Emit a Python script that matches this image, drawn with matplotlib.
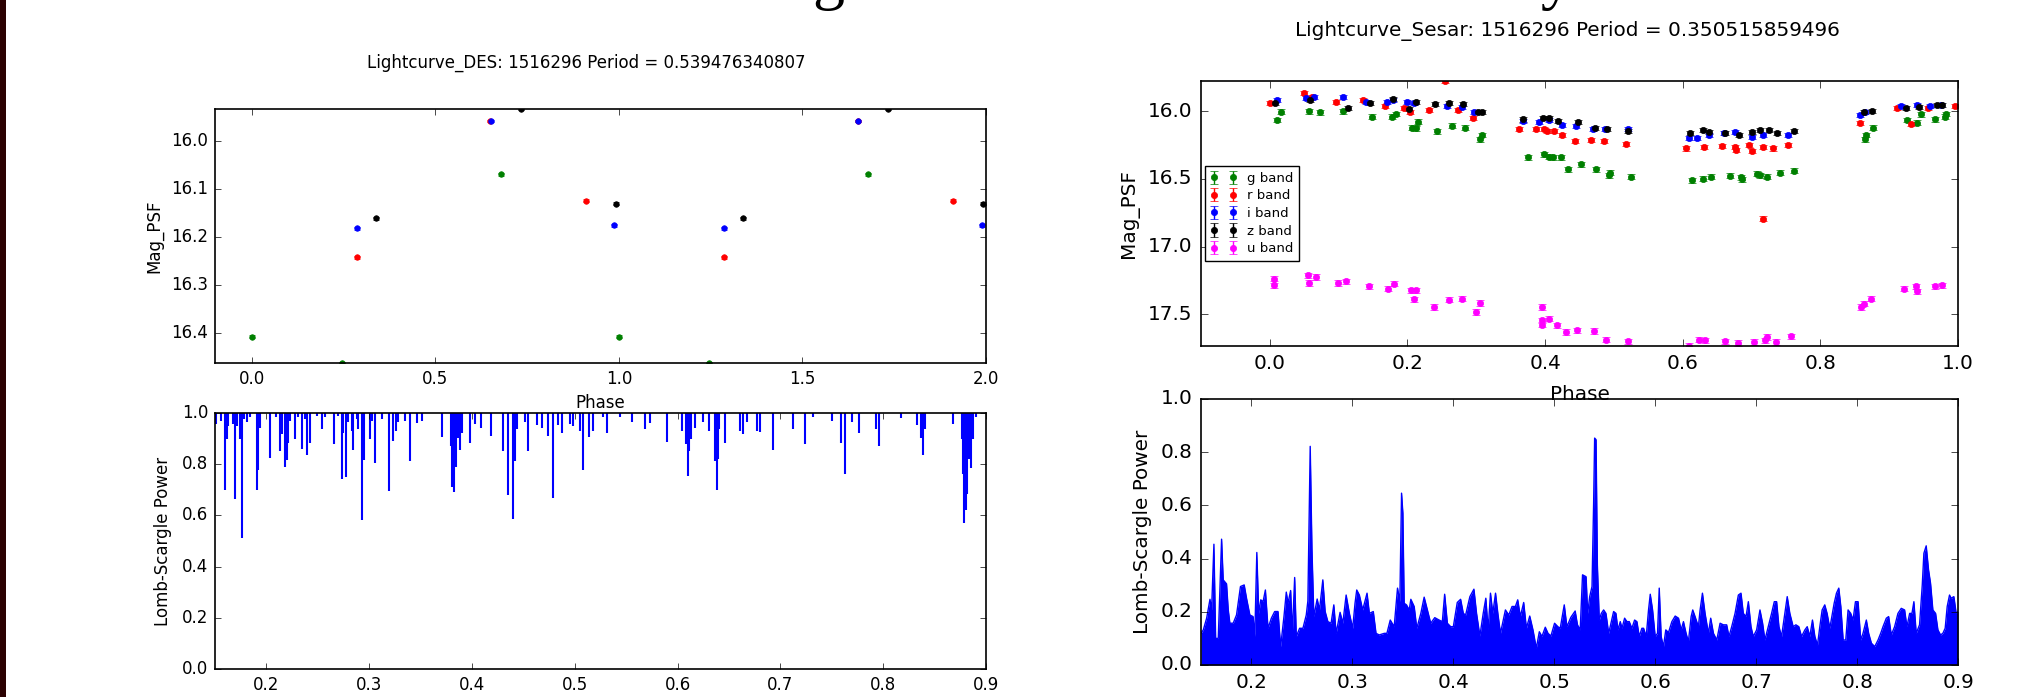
import matplotlib
matplotlib.use("Agg")
import matplotlib.pyplot as plt
import numpy as np
from matplotlib.patches import Rectangle

plt.style.use("classic")
plt.rcParams["font.family"] = ["DejaVu Sans"]

# ---- DES light curve: phase in [0, 1), drawn twice (phase and phase + 1)
des_g_phase = [0.0, 0.246, 0.679]
des_g_mag = [16.408, 16.463, 16.069]
des_r_phase = [0.2875, 0.650, 0.910]
des_r_mag = [16.242, 15.958, 16.124]
des_i_phase = [0.2875, 0.652, 0.988]
des_i_mag = [16.182, 15.958, 16.176]
des_z_phase = [0.338, 0.733, 0.991]
des_z_mag = [16.161, 15.933, 16.131]
des_err = 0.003

# ---- Sesar light curve
ses_g_phase = [0.011, 0.016, 0.057, 0.073, 0.106, 0.149, 0.178, 0.183, 0.206, 0.213,
               0.216, 0.243, 0.265, 0.283, 0.306, 0.309, 0.375, 0.399, 0.405, 0.411,
               0.423, 0.434, 0.452, 0.474, 0.493, 0.494, 0.525, 0.613, 0.629, 0.641,
               0.668, 0.684, 0.686, 0.708, 0.713, 0.723, 0.741, 0.761, 0.865, 0.867,
               0.877, 0.926, 0.940, 0.946, 0.967, 0.981, 0.983]
ses_g_mag = [16.066, 16.005, 16.000, 16.010, 16.000, 16.042, 16.042, 16.022, 16.123, 16.128,
             16.079, 16.148, 16.108, 16.123, 16.207, 16.177, 16.342, 16.320, 16.337, 16.342,
             16.342, 16.431, 16.394, 16.431, 16.473, 16.456, 16.485, 16.510, 16.500, 16.485,
             16.478, 16.490, 16.502, 16.461, 16.473, 16.485, 16.456, 16.441, 16.207, 16.177,
             16.123, 16.066, 16.086, 16.025, 16.062, 16.042, 16.022]
ses_r_phase = [0.000, 0.050, 0.061, 0.096, 0.136, 0.167, 0.195, 0.204, 0.232, 0.255,
               0.273, 0.295, 0.362, 0.387, 0.399, 0.403, 0.413, 0.425, 0.444, 0.466,
               0.485, 0.517, 0.605, 0.631, 0.657, 0.676, 0.678, 0.696, 0.700, 0.717,
               0.717, 0.731, 0.753, 0.857, 0.912, 0.932, 0.957, 0.995]
ses_r_mag = [15.943, 15.869, 15.894, 15.931, 15.919, 15.963, 15.980, 16.005, 15.993, 15.778,
             15.993, 16.054, 16.135, 16.135, 16.135, 16.148, 16.148, 16.177, 16.222, 16.214,
             16.222, 16.246, 16.276, 16.268, 16.259, 16.264, 16.288, 16.251, 16.293, 16.268,
             16.793, 16.276, 16.251, 16.086, 15.980, 16.096, 15.980, 15.963]
ses_i_phase = [0.011, 0.053, 0.064, 0.106, 0.140, 0.171, 0.179, 0.200, 0.210, 0.257,
               0.279, 0.297, 0.368, 0.391, 0.405, 0.425, 0.445, 0.470, 0.487, 0.521,
               0.609, 0.621, 0.638, 0.660, 0.676, 0.700, 0.717, 0.753, 0.857, 0.865,
               0.917, 0.940, 0.959, 0.975]
ses_i_mag = [15.919, 15.906, 15.894, 15.899, 15.931, 15.931, 15.919, 15.936, 15.943, 15.963,
             15.968, 16.005, 16.074, 16.079, 16.067, 16.103, 16.111, 16.133, 16.135, 16.135,
             16.197, 16.197, 16.177, 16.165, 16.153, 16.190, 16.177, 16.177, 16.030, 16.005,
             15.963, 15.956, 15.963, 15.956]
ses_z_phase = [0.008, 0.059, 0.114, 0.145, 0.179, 0.202, 0.212, 0.240, 0.261, 0.281,
               0.303, 0.308, 0.368, 0.397, 0.405, 0.419, 0.448, 0.472, 0.490, 0.521,
               0.611, 0.629, 0.638, 0.662, 0.682, 0.700, 0.713, 0.725, 0.737, 0.761,
               0.863, 0.875, 0.924, 0.943, 0.969, 0.977]
ses_z_mag = [15.943, 15.919, 15.975, 15.938, 15.914, 15.988, 15.931, 15.951, 15.943, 15.951,
             16.005, 16.010, 16.062, 16.049, 16.054, 16.074, 16.079, 16.128, 16.133, 16.145,
             16.165, 16.140, 16.153, 16.165, 16.177, 16.153, 16.140, 16.140, 16.160, 16.145,
             16.005, 15.998, 15.980, 15.968, 15.956, 15.956]
ses_u_phase = [0.0065, 0.0065, 0.055, 0.057, 0.067, 0.099, 0.110, 0.144, 0.172, 0.181,
               0.205, 0.212, 0.209, 0.238, 0.261, 0.279, 0.300, 0.305, 0.395, 0.395,
               0.395, 0.405, 0.417, 0.430, 0.446, 0.471, 0.489, 0.521, 0.609, 0.623,
               0.633, 0.662, 0.680, 0.703, 0.719, 0.723, 0.735, 0.757, 0.859, 0.863,
               0.873, 0.922, 0.939, 0.941, 0.967, 0.977]
ses_u_mag = [17.236, 17.286, 17.212, 17.268, 17.224, 17.268, 17.256, 17.293, 17.310, 17.273,
             17.323, 17.323, 17.389, 17.446, 17.392, 17.384, 17.483, 17.416, 17.446, 17.544,
             17.576, 17.532, 17.581, 17.630, 17.618, 17.623, 17.687, 17.700, 17.734, 17.687,
             17.692, 17.700, 17.712, 17.704, 17.692, 17.667, 17.704, 17.662, 17.446, 17.421,
             17.384, 17.310, 17.293, 17.330, 17.293, 17.286]
ses_err = {"g": 0.018, "r": 0.015, "i": 0.015, "z": 0.015, "u": 0.02}

# ---- DES Lomb-Scargle: power stays at 1.0 except for narrow dips
des_dip_period = [0.1506, 0.1558, 0.1597, 0.1614, 0.1623, 0.1672, 0.1695, 0.1714, 0.1743, 0.1759,
                  0.1785, 0.1808, 0.1840, 0.1912, 0.1922, 0.1941, 0.2035, 0.2090, 0.2132, 0.2155,
                  0.2181, 0.2197, 0.2213, 0.2230, 0.2278, 0.2311, 0.2350, 0.2375, 0.2398, 0.2424,
                  0.2489, 0.2538, 0.2570, 0.2658, 0.2700, 0.2732, 0.2748, 0.2771, 0.2797, 0.2830,
                  0.2846, 0.2878, 0.2894, 0.2933, 0.2953, 0.3008, 0.3030, 0.3056, 0.3121, 0.3193,
                  0.3235, 0.3258, 0.3277, 0.3348, 0.3394, 0.3462, 0.3510, 0.3705, 0.3793, 0.3802,
                  0.3828, 0.3841, 0.3861, 0.3883, 0.3900, 0.3981, 0.4029, 0.4088, 0.4182, 0.4305,
                  0.4354, 0.4396, 0.4418, 0.4435, 0.4516, 0.4548, 0.4630, 0.4684, 0.4743, 0.4791,
                  0.4840, 0.4872, 0.4953, 0.4986, 0.5051, 0.5077, 0.5139, 0.5180, 0.5271, 0.5310,
                  0.5440, 0.5553, 0.5683, 0.5732, 0.5894, 0.6040, 0.6085, 0.6098, 0.6112, 0.6127,
                  0.6169, 0.6250, 0.6309, 0.6364, 0.6380, 0.6392, 0.6403, 0.6461, 0.6607, 0.6633,
                  0.6672, 0.6769, 0.6802, 0.6925, 0.7126, 0.7239, 0.7314, 0.7499, 0.7587, 0.7629,
                  0.7694, 0.7768, 0.7930, 0.7963, 0.8173, 0.8326, 0.8368, 0.8384, 0.8407, 0.8683,
                  0.8765, 0.8775, 0.8790, 0.8802, 0.8813, 0.8835, 0.8852, 0.8871, 0.8900]
des_dip_power = [0.956, 0.970, 0.701, 0.897, 0.950, 0.956, 0.665, 0.950, 0.899, 0.510,
                 0.976, 0.963, 0.983, 0.701, 0.777, 0.943, 0.824, 0.983, 0.850, 0.917,
                 0.791, 0.817, 0.883, 0.970, 0.897, 0.983, 0.860, 0.976, 0.837, 0.883,
                 0.989, 0.936, 0.983, 0.877, 0.989, 0.744, 0.923, 0.751, 0.963, 0.930,
                 0.857, 0.976, 0.936, 0.583, 0.817, 0.897, 0.970, 0.804, 0.976, 0.695,
                 0.890, 0.930, 0.963, 0.970, 0.811, 0.960, 0.970, 0.906, 0.870, 0.711,
                 0.690, 0.791, 0.903, 0.857, 0.923, 0.883, 0.956, 0.943, 0.910, 0.850,
                 0.678, 0.585, 0.811, 0.936, 0.963, 0.850, 0.952, 0.943, 0.910, 0.669,
                 0.952, 0.923, 0.956, 0.950, 0.930, 0.777, 0.907, 0.930, 0.983, 0.923,
                 0.983, 0.966, 0.939, 0.960, 0.886, 0.930, 0.880, 0.754, 0.850, 0.897,
                 0.943, 0.963, 0.930, 0.811, 0.701, 0.820, 0.936, 0.883, 0.930, 0.917,
                 0.963, 0.930, 0.926, 0.857, 0.936, 0.877, 0.983, 0.970, 0.881, 0.762,
                 0.963, 0.923, 0.936, 0.870, 0.979, 0.952, 0.903, 0.837, 0.936, 0.956,
                 0.900, 0.760, 0.572, 0.620, 0.685, 0.820, 0.784, 0.897, 0.985]

# ---- Sesar Lomb-Scargle: upper envelope of the densely sampled power
ses_ls_period = [0.1500, 0.1523, 0.1556, 0.1589, 0.1605, 0.1628, 0.1645, 0.1671, 0.1704, 0.1720,
                 0.1753, 0.1770, 0.1786, 0.1819, 0.1852, 0.1891, 0.1928, 0.1951, 0.1984, 0.2016,
                 0.2033, 0.2053, 0.2072, 0.2092, 0.2115, 0.2138, 0.2164, 0.2197, 0.2230, 0.2263,
                 0.2289, 0.2322, 0.2345, 0.2362, 0.2388, 0.2405, 0.2428, 0.2444, 0.2477, 0.2510,
                 0.2543, 0.2559, 0.2582, 0.2599, 0.2618, 0.2651, 0.2674, 0.2707, 0.2730, 0.2757,
                 0.2789, 0.2816, 0.2839, 0.2878, 0.2905, 0.2938, 0.2970, 0.3003, 0.3026, 0.3043,
                 0.3069, 0.3102, 0.3145, 0.3168, 0.3207, 0.3234, 0.3266, 0.3316, 0.3342, 0.3375,
                 0.3414, 0.3447, 0.3470, 0.3487, 0.3500, 0.3513, 0.3536, 0.3563, 0.3579, 0.3612,
                 0.3638, 0.3678, 0.3711, 0.3743, 0.3776, 0.3816, 0.3859, 0.3891, 0.3914, 0.3941,
                 0.3974, 0.4000, 0.4039, 0.4072, 0.4099, 0.4122, 0.4164, 0.4204, 0.4230, 0.4263,
                 0.4296, 0.4322, 0.4345, 0.4368, 0.4391, 0.4418, 0.4441, 0.4467, 0.4516, 0.4549,
                 0.4582, 0.4615, 0.4638, 0.4664, 0.4697, 0.4724, 0.4757, 0.4789, 0.4822, 0.4852,
                 0.4878, 0.4911, 0.4938, 0.4967, 0.5003, 0.5036, 0.5059, 0.5099, 0.5125, 0.5164,
                 0.5207, 0.5230, 0.5257, 0.5280, 0.5315, 0.5331, 0.5351, 0.5374, 0.5390, 0.5400,
                 0.5414, 0.5427, 0.5446, 0.5466, 0.5489, 0.5512, 0.5539, 0.5565, 0.5588, 0.5611,
                 0.5631, 0.5654, 0.5671, 0.5697, 0.5720, 0.5743, 0.5769, 0.5796, 0.5819, 0.5842,
                 0.5868, 0.5885, 0.5911, 0.5934, 0.5951, 0.5974, 0.6000, 0.6023, 0.6040, 0.6059,
                 0.6082, 0.6105, 0.6132, 0.6165, 0.6198, 0.6231, 0.6257, 0.6280, 0.6306, 0.6329,
                 0.6356, 0.6372, 0.6395, 0.6428, 0.6445, 0.6468, 0.6494, 0.6527, 0.6550, 0.6577,
                 0.6610, 0.6643, 0.6675, 0.6708, 0.6731, 0.6758, 0.6791, 0.6824, 0.6850, 0.6873,
                 0.6900, 0.6923, 0.6949, 0.6972, 0.7005, 0.7038, 0.7064, 0.7087, 0.7120, 0.7153,
                 0.7180, 0.7203, 0.7226, 0.7252, 0.7285, 0.7308, 0.7334, 0.7367, 0.7394, 0.7423,
                 0.7450, 0.7483, 0.7506, 0.7532, 0.7558, 0.7582, 0.7608, 0.7631, 0.7654, 0.7680,
                 0.7703, 0.7730, 0.7773, 0.7796, 0.7819, 0.7839, 0.7862, 0.7888, 0.7911, 0.7937,
                 0.7960, 0.7984, 0.8010, 0.8036, 0.8059, 0.8092, 0.8115, 0.8142, 0.8175, 0.8208,
                 0.8234, 0.8257, 0.8290, 0.8313, 0.8339, 0.8372, 0.8405, 0.8438, 0.8471, 0.8494,
                 0.8521, 0.8544, 0.8563, 0.8586, 0.8619, 0.8646, 0.8662, 0.8685, 0.8708, 0.8728,
                 0.8751, 0.8778, 0.8801, 0.8827, 0.8850, 0.8873, 0.8893, 0.8916, 0.8932, 0.8959,
                 0.8982, 0.9000]
ses_ls_power = [0.119, 0.132, 0.176, 0.247, 0.207, 0.454, 0.100, 0.100, 0.473, 0.320,
                0.305, 0.207, 0.157, 0.157, 0.188, 0.295, 0.301, 0.251, 0.188, 0.182,
                0.107, 0.423, 0.194, 0.245, 0.238, 0.282, 0.138, 0.176, 0.201, 0.201,
                0.069, 0.182, 0.274, 0.232, 0.280, 0.119, 0.329, 0.107, 0.138, 0.138,
                0.188, 0.241, 0.822, 0.439, 0.182, 0.248, 0.207, 0.320, 0.201, 0.163,
                0.157, 0.226, 0.119, 0.198, 0.157, 0.263, 0.194, 0.138, 0.232, 0.282,
                0.263, 0.207, 0.270, 0.194, 0.201, 0.119, 0.113, 0.119, 0.119, 0.169,
                0.144, 0.289, 0.238, 0.646, 0.571, 0.232, 0.226, 0.207, 0.247, 0.220,
                0.138, 0.194, 0.255, 0.207, 0.157, 0.178, 0.169, 0.163, 0.266, 0.157,
                0.144, 0.144, 0.235, 0.247, 0.194, 0.188, 0.257, 0.285, 0.194, 0.109,
                0.194, 0.251, 0.132, 0.270, 0.194, 0.270, 0.194, 0.119, 0.207, 0.188,
                0.220, 0.220, 0.245, 0.182, 0.235, 0.138, 0.184, 0.132, 0.063, 0.125,
                0.107, 0.142, 0.119, 0.109, 0.157, 0.144, 0.138, 0.226, 0.144, 0.179,
                0.203, 0.151, 0.132, 0.339, 0.332, 0.194, 0.257, 0.295, 0.609, 0.853,
                0.847, 0.376, 0.169, 0.194, 0.207, 0.194, 0.119, 0.163, 0.201, 0.194,
                0.132, 0.163, 0.138, 0.176, 0.163, 0.163, 0.138, 0.169, 0.163, 0.107,
                0.138, 0.138, 0.107, 0.207, 0.266, 0.207, 0.107, 0.119, 0.289, 0.107,
                0.069, 0.132, 0.122, 0.163, 0.184, 0.176, 0.132, 0.163, 0.119, 0.088,
                0.182, 0.207, 0.182, 0.144, 0.207, 0.270, 0.194, 0.119, 0.176, 0.119,
                0.094, 0.157, 0.151, 0.151, 0.107, 0.144, 0.194, 0.263, 0.270, 0.194,
                0.182, 0.238, 0.144, 0.107, 0.132, 0.207, 0.157, 0.094, 0.144, 0.194,
                0.238, 0.238, 0.144, 0.107, 0.194, 0.257, 0.194, 0.144, 0.151, 0.144,
                0.107, 0.132, 0.144, 0.107, 0.169, 0.107, 0.075, 0.144, 0.207, 0.226,
                0.194, 0.138, 0.232, 0.270, 0.289, 0.220, 0.094, 0.094, 0.207, 0.194,
                0.169, 0.238, 0.238, 0.094, 0.119, 0.169, 0.119, 0.082, 0.069, 0.094,
                0.119, 0.144, 0.176, 0.182, 0.113, 0.144, 0.194, 0.213, 0.207, 0.144,
                0.194, 0.194, 0.238, 0.119, 0.151, 0.301, 0.420, 0.448, 0.358, 0.307,
                0.207, 0.194, 0.132, 0.113, 0.119, 0.138, 0.220, 0.263, 0.251, 0.257,
                0.194, 0.200]

# ---- titles, labels, ticks
des_title = "Lightcurve_DES: 1516296 Period = 0.539476340807"
ses_title = "Lightcurve_Sesar: 1516296 Period = 0.350515859496"
des_phase_ticks = [0.0, 0.5, 1.0, 1.5, 2.0]
des_mag_ticks = [16.0, 16.1, 16.2, 16.3, 16.4]
ses_phase_ticks = [0.0, 0.2, 0.4, 0.6, 0.8, 1.0]
ses_mag_ticks = [16.0, 16.5, 17.0, 17.5]
ls_period_ticks = [0.2, 0.3, 0.4, 0.5, 0.6, 0.7, 0.8, 0.9]
ls_power_ticks = [0.0, 0.2, 0.4, 0.6, 0.8, 1.0]

W, H = 2044, 697


def px_axes(fig, left, top, right, bottom):
    return fig.add_axes([left / W, 1 - bottom / H, (right - left) / W, (bottom - top) / H])


def style_axes(ax, fs):
    ax.tick_params(labelsize=fs, length=4 * fs / 12, pad=5 * fs / 12)
    for sp in ax.spines.values():
        sp.set_linewidth(1.2)


fig = plt.figure(figsize=(W / 100, H / 100), dpi=100, facecolor="white")

# slide edge and the bottom of a heading that is cut off above the plots
fig.patches.append(Rectangle((0, 0), 6 / W, 1, transform=fig.transFigure,
                             facecolor="#2b0102", edgecolor="none"))
fig.text(828 / W, 1.004, "g", fontsize=46, family="Liberation Serif",
         ha="center", va="baseline")
fig.text(1556 / W, 1.004, "y", fontsize=46, family="Liberation Serif",
         ha="center", va="baseline")

# ----- DES light curve
fs1 = 12
ax1 = px_axes(fig, 215, 109, 986, 363)
ax1.set_zorder(3)
des_bands = [("g", des_g_phase, des_g_mag), ("r", des_r_phase, des_r_mag),
             ("b", des_i_phase, des_i_mag), ("k", des_z_phase, des_z_mag)]
for color, phase, mag in des_bands:
    ph = np.concatenate([phase, np.array(phase) + 1.0])
    mg = np.concatenate([mag, mag])
    ax1.errorbar(ph, mg, yerr=des_err, fmt="o", color=color, mec=color,
                 ms=4, capsize=2.5, elinewidth=1)
all_des = des_g_mag + des_r_mag + des_i_mag + des_z_mag
ax1.set_xlim(-0.1, 2.0)
ax1.set_ylim(max(all_des), min(all_des))
ax1.set_xticks(des_phase_ticks)
ax1.set_xticklabels([f"{t:.1f}" for t in des_phase_ticks])
ax1.set_yticks(des_mag_ticks)
ax1.set_yticklabels([f"{t:.1f}" for t in des_mag_ticks])
ax1.set_xlabel("Phase", fontsize=fs1)
ax1.set_ylabel("Mag_PSF", fontsize=fs1)
ax1.xaxis.set_label_coords(0.5, -0.122)
ax1.yaxis.set_label_coords(-0.067, 0.5)
style_axes(ax1, fs1)
fig.text(586 / W, 1 - 63 / H, des_title, fontsize=fs1, ha="center", va="center")

# ----- DES periodogram
ax2 = px_axes(fig, 215, 413, 986, 669)
ax2.vlines(des_dip_period, des_dip_power, 1.0, colors="b", lw=1.5)
ax2.set_xlim(0.15, 0.9)
ax2.set_ylim(0.0, 1.0)
ax2.set_xticks(ls_period_ticks)
ax2.set_xticklabels([f"{t:.1f}" for t in ls_period_ticks])
ax2.set_yticks(ls_power_ticks)
ax2.set_yticklabels([f"{t:.1f}" for t in ls_power_ticks])
ax2.set_ylabel("Lomb-Scargle Power", fontsize=fs1)
ax2.yaxis.set_label_coords(-0.056, 0.5)
style_axes(ax2, fs1)

# ----- Sesar light curve
fs2 = 14.45
ax3 = px_axes(fig, 1201, 81, 1958, 346)
ax3.set_zorder(3)
ses_bands = [("g band", "g", ses_g_phase, ses_g_mag, ses_err["g"]),
             ("r band", "r", ses_r_phase, ses_r_mag, ses_err["r"]),
             ("i band", "b", ses_i_phase, ses_i_mag, ses_err["i"]),
             ("z band", "k", ses_z_phase, ses_z_mag, ses_err["z"]),
             ("u band", "magenta", ses_u_phase, ses_u_mag, ses_err["u"])]
all_ses = []
for label, color, phase, mag, err in ses_bands:
    ax3.errorbar(phase, mag, yerr=err, fmt="o", color=color, mec=color,
                 ms=4.5, capsize=3, elinewidth=1, label=label)
    all_ses += mag
ax3.set_xlim(-0.1, 1.0)
ax3.set_ylim(max(all_ses), min(all_ses))
ax3.set_xticks(ses_phase_ticks)
ax3.set_xticklabels([f"{t:.1f}" for t in ses_phase_ticks])
ax3.set_yticks(ses_mag_ticks)
ax3.set_yticklabels([f"{t:.1f}" for t in ses_mag_ticks])
ax3.set_xlabel("Phase", fontsize=fs2)
ax3.set_ylabel("Mag_PSF", fontsize=fs2)
ax3.xaxis.set_label_coords(0.5, -0.147)
ax3.yaxis.set_label_coords(-0.082, 0.5)
ax3.legend(loc="center left", numpoints=2, fontsize=9.5, fancybox=False,
           handlelength=2, borderaxespad=0.3, labelspacing=0.35)
style_axes(ax3, fs2)
fig.text(1567 / W, 1 - 31 / H, ses_title, fontsize=fs2, ha="center", va="center")

# ----- Sesar periodogram
ax4 = px_axes(fig, 1201, 399, 1958, 665)
ax4.fill_between(ses_ls_period, 0.0, ses_ls_power, color="b", lw=0)
ax4.plot(ses_ls_period, ses_ls_power, color="b", lw=1.0)
ax4.set_xlim(0.15, 0.9)
ax4.set_ylim(0.0, 1.0)
ax4.set_xticks(ls_period_ticks)
ax4.set_xticklabels([f"{t:.1f}" for t in ls_period_ticks])
ax4.set_yticks(ls_power_ticks)
ax4.set_yticklabels([f"{t:.1f}" for t in ls_power_ticks])
ax4.set_ylabel("Lomb-Scargle Power", fontsize=fs2)
ax4.yaxis.set_label_coords(-0.065, 0.5)
style_axes(ax4, fs2)

fig.savefig("out.png", dpi=100, facecolor="white")
